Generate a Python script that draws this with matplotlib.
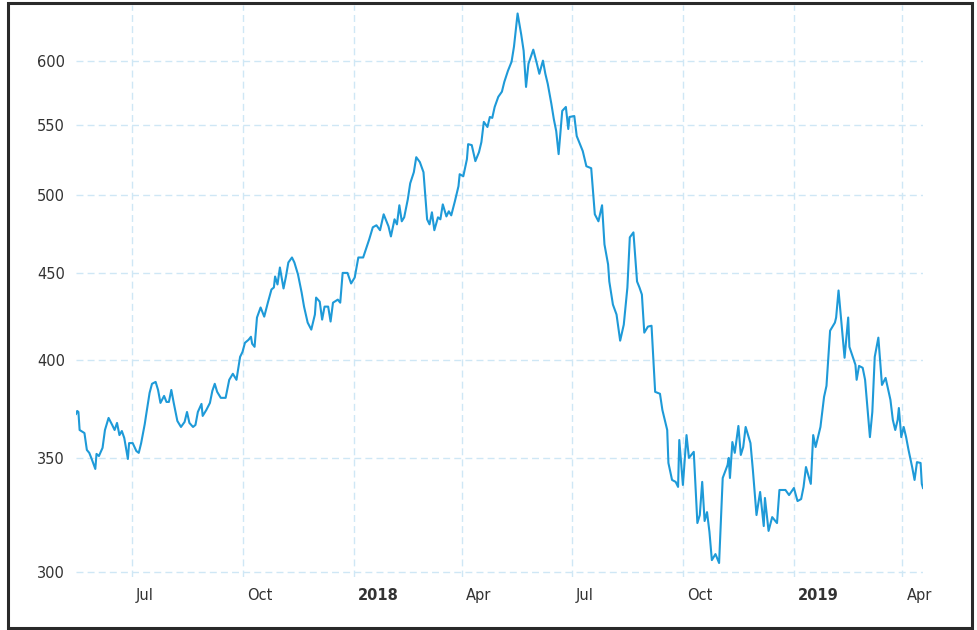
import matplotlib
matplotlib.use("Agg")
import matplotlib.pyplot as plt
from matplotlib.ticker import FixedLocator, NullLocator, FuncFormatter
from matplotlib.transforms import ScaledTranslation
from matplotlib.patches import Rectangle
import pandas as pd

# ---- data ----
dates = [
    "2017-05-16", "2017-05-17", "2017-05-18", "2017-05-19", "2017-05-23", "2017-05-25", "2017-05-27", "2017-05-29",
    "2017-06-01", "2017-06-02", "2017-06-04", "2017-06-07", "2017-06-09", "2017-06-12", "2017-06-15", "2017-06-17",
    "2017-06-19", "2017-06-21", "2017-06-23", "2017-06-25", "2017-06-28", "2017-06-29", "2017-07-02", "2017-07-05",
    "2017-07-07", "2017-07-09", "2017-07-12", "2017-07-13", "2017-07-16", "2017-07-18", "2017-07-21", "2017-07-23",
    "2017-07-25", "2017-07-28", "2017-07-30", "2017-08-01", "2017-08-03", "2017-08-05", "2017-08-08", "2017-08-11",
    "2017-08-14", "2017-08-16", "2017-08-18", "2017-08-21", "2017-08-23", "2017-08-25", "2017-08-28", "2017-08-29",
    "2017-09-01", "2017-09-04", "2017-09-06", "2017-09-08", "2017-09-10", "2017-09-13", "2017-09-17", "2017-09-20",
    "2017-09-23", "2017-09-26", "2017-09-29", "2017-10-01", "2017-10-03", "2017-10-06", "2017-10-08", "2017-10-09",
    "2017-10-11", "2017-10-13", "2017-10-16", "2017-10-19", "2017-10-22", "2017-10-25", "2017-10-27", "2017-10-28",
    "2017-10-30", "2017-11-01", "2017-11-04", "2017-11-06", "2017-11-08", "2017-11-11", "2017-11-13", "2017-11-16",
    "2017-11-19", "2017-11-21", "2017-11-24", "2017-11-27", "2017-11-30", "2017-12-01", "2017-12-04", "2017-12-06",
    "2017-12-08", "2017-12-11", "2017-12-13", "2017-12-15", "2017-12-19", "2017-12-21", "2017-12-23", "2017-12-27",
    "2017-12-30", "2018-01-02", "2018-01-05", "2018-01-09", "2018-01-14", "2018-01-17", "2018-01-20", "2018-01-23",
    "2018-01-26", "2018-01-30", "2018-02-01", "2018-02-04", "2018-02-06", "2018-02-08", "2018-02-10", "2018-02-12",
    "2018-02-15", "2018-02-17", "2018-02-20", "2018-02-22", "2018-02-25", "2018-02-28", "2018-03-03", "2018-03-05",
    "2018-03-07", "2018-03-09", "2018-03-12", "2018-03-14", "2018-03-16", "2018-03-19", "2018-03-21", "2018-03-23",
    "2018-03-26", "2018-03-29", "2018-03-30", "2018-04-02", "2018-04-05", "2018-04-06", "2018-04-09", "2018-04-12",
    "2018-04-15", "2018-04-17", "2018-04-19", "2018-04-22", "2018-04-24", "2018-04-26", "2018-04-28", "2018-05-01",
    "2018-05-04", "2018-05-06", "2018-05-09", "2018-05-12", "2018-05-14", "2018-05-17", "2018-05-20", "2018-05-22",
    "2018-05-24", "2018-05-26", "2018-05-30", "2018-06-02", "2018-06-04", "2018-06-07", "2018-06-09", "2018-06-11",
    "2018-06-14", "2018-06-16", "2018-06-18", "2018-06-20", "2018-06-23", "2018-06-26", "2018-06-28", "2018-06-29",
    "2018-07-03", "2018-07-05", "2018-07-10", "2018-07-13", "2018-07-17", "2018-07-20", "2018-07-23", "2018-07-26",
    "2018-07-28", "2018-07-31", "2018-08-01", "2018-08-04", "2018-08-07", "2018-08-10", "2018-08-13", "2018-08-16",
    "2018-08-18", "2018-08-21", "2018-08-24", "2018-08-26", "2018-08-28", "2018-08-30", "2018-09-02", "2018-09-05",
    "2018-09-08", "2018-09-12", "2018-09-14", "2018-09-16", "2018-09-18", "2018-09-19", "2018-09-22", "2018-09-25",
    "2018-09-27", "2018-09-28", "2018-10-01", "2018-10-04", "2018-10-06", "2018-10-10", "2018-10-13", "2018-10-15",
    "2018-10-17", "2018-10-19", "2018-10-21", "2018-10-23", "2018-10-25", "2018-10-28", "2018-10-31", "2018-11-03",
    "2018-11-07", "2018-11-08", "2018-11-09", "2018-11-11", "2018-11-13", "2018-11-16", "2018-11-18", "2018-11-20",
    "2018-11-22", "2018-11-26", "2018-11-28", "2018-12-01", "2018-12-04", "2018-12-07", "2018-12-08", "2018-12-11",
    "2018-12-14", "2018-12-18", "2018-12-20", "2018-12-25", "2018-12-28", "2019-01-01", "2019-01-04", "2019-01-07",
    "2019-01-09", "2019-01-11", "2019-01-15", "2019-01-17", "2019-01-19", "2019-01-23", "2019-01-26", "2019-01-28",
    "2019-01-31", "2019-02-04", "2019-02-05", "2019-02-07", "2019-02-12", "2019-02-15", "2019-02-16", "2019-02-21",
    "2019-02-22", "2019-02-24", "2019-02-27", "2019-03-01", "2019-03-05", "2019-03-07", "2019-03-09", "2019-03-12",
    "2019-03-15", "2019-03-18", "2019-03-22", "2019-03-24", "2019-03-26", "2019-03-28", "2019-03-29", "2019-03-31",
    "2019-04-02", "2019-04-04", "2019-04-06", "2019-04-09", "2019-04-11", "2019-04-13", "2019-04-16", "2019-04-17",
    "2019-04-18",
]

prices = [
    371.7, 373.2, 372.7, 363.7, 362.2, 354.0, 352.6, 349.7,
    345.0, 352.1, 351.1, 355.0, 363.7, 369.7, 366.2, 363.7,
    367.2, 361.2, 363.2, 359.8, 349.7, 357.3, 357.3, 353.5,
    352.6, 357.3, 366.7, 370.7, 382.5, 387.2, 388.2, 384.0,
    377.3, 380.9, 377.8, 377.8, 384.0, 377.3, 368.2, 365.2,
    367.7, 372.7, 367.2, 365.2, 366.2, 372.7, 376.8, 370.7,
    373.7, 377.3, 383.5, 387.2, 383.0, 379.9, 379.9, 389.3,
    392.5, 389.3, 401.6, 404.3, 409.3, 411.0, 412.7, 408.8,
    407.1, 423.6, 429.4, 424.1, 432.2, 440.0, 441.2, 447.8,
    443.0, 453.3, 440.6, 447.8, 456.4, 459.5, 456.4, 449.0,
    438.2, 429.9, 420.7, 416.7, 425.3, 435.2, 432.8, 422.4,
    429.9, 429.9, 421.3, 432.2, 434.0, 432.2, 450.0, 450.0,
    443.6, 447.2, 459.5, 459.5, 470.9, 478.7, 480.0, 476.8,
    487.2, 479.3, 472.8, 483.9, 480.6, 493.2, 482.6, 485.2,
    497.2, 508.1, 515.8, 526.4, 522.9, 515.8, 483.9, 480.6,
    488.5, 476.8, 485.2, 483.9, 493.8, 485.8, 489.2, 486.5,
    495.8, 506.1, 514.4, 513.0, 525.0, 535.8, 535.1, 523.6,
    530.0, 537.3, 552.2, 548.4, 555.9, 555.2, 563.5, 571.3,
    575.3, 583.0, 591.8, 599.1, 611.5, 639.6, 621.6, 608.1,
    579.0, 597.5, 609.0, 597.5, 589.4, 600.0, 589.4, 581.4,
    565.8, 554.4, 545.4, 528.6, 560.5, 563.5, 546.9, 555.9,
    556.6, 541.7, 530.8, 520.0, 518.6, 487.2, 482.6, 493.2,
    467.7, 455.2, 444.8, 431.1, 425.3, 410.5, 419.5, 441.2,
    472.2, 475.4, 444.8, 441.2, 437.0, 415.0, 418.4, 418.9,
    383.0, 382.0, 373.7, 368.7, 363.7, 347.8, 339.9, 339.0,
    336.7, 358.8, 337.6, 361.2, 350.2, 353.1, 320.6, 324.1,
    339.0, 321.5, 325.4, 316.8, 304.9, 307.4, 303.7, 340.8,
    346.8, 350.2, 340.8, 357.8, 352.6, 365.7, 351.6, 355.4,
    365.2, 357.3, 344.5, 324.1, 334.4, 319.3, 331.7, 317.2,
    323.2, 320.6, 335.3, 335.3, 333.0, 336.2, 330.3, 331.2,
    336.7, 345.9, 338.1, 361.2, 355.4, 365.2, 380.4, 386.1,
    416.1, 420.7, 423.6, 439.4, 401.1, 423.6, 407.1, 397.3,
    389.3, 396.7, 395.7, 389.3, 360.2, 372.7, 401.6, 412.2,
    386.6, 390.3, 378.9, 368.7, 363.7, 368.7, 374.7, 360.2,
    365.2, 360.2, 354.0, 345.9, 339.9, 348.2, 347.8, 338.1,
    336.2,
]

y_ticks = [300, 350, 400, 450, 500, 550, 600]
x_tick_dates = ["2017-07-01", "2017-10-01", "2018-01-01", "2018-04-01",
                "2018-07-01", "2018-10-01", "2019-01-01", "2019-04-01"]
x_tick_labels = ["Jul", "Oct", "2018", "Apr", "Jul", "Oct", "2019", "Apr"]
bold_labels = ["2018", "2019"]

# ---- figure ----
W, H = 977, 630
fig = plt.figure(figsize=(W / 100, H / 100), dpi=100)
fig.patch.set_facecolor("white")
ax = fig.add_axes([76 / W, (H - 577) / H, (923 - 76) / W, (577 - 5) / H])

x = pd.to_datetime(dates)
ax.plot(x, prices, color="#1e9ad8", lw=1.5, solid_joinstyle="round", zorder=3)

ax.set_yscale("log")
ax.set_ylim(298, 647)
ax.set_xlim(x[0], x[-1])

ax.yaxis.set_major_locator(FixedLocator(y_ticks))
ax.yaxis.set_minor_locator(NullLocator())
ax.yaxis.set_major_formatter(FuncFormatter(lambda v, _: f"{v:.0f}"))

ax.set_xticks(pd.to_datetime(x_tick_dates))
ax.set_xticklabels(x_tick_labels)
ax.xaxis.set_minor_locator(NullLocator())

for s in ax.spines.values():
    s.set_visible(False)

ax.tick_params(axis="both", length=0, colors="#333333", labelsize=10.5)
ax.tick_params(axis="y", pad=8)
ax.tick_params(axis="x", pad=8)

offset = ScaledTranslation(3 / 72, 0, fig.dpi_scale_trans)
for lab in ax.get_xticklabels():
    lab.set_horizontalalignment("left")
    lab.set_transform(lab.get_transform() + offset)
    if lab.get_text() in bold_labels:
        lab.set_fontweight("bold")

ax.grid(True, which="major", color="#cfe7f5", linestyle=(0, (5, 3)), linewidth=1.0, zorder=0)
ax.set_axisbelow(True)

# outer frame
frame = Rectangle((8 / W, 2 / H), (972 - 8) / W, (627 - 2) / H, transform=fig.transFigure,
                  fill=False, edgecolor="#2a2a2a", linewidth=2.2)
fig.add_artist(frame)

fig.savefig("out.png", dpi=100, facecolor="white")
